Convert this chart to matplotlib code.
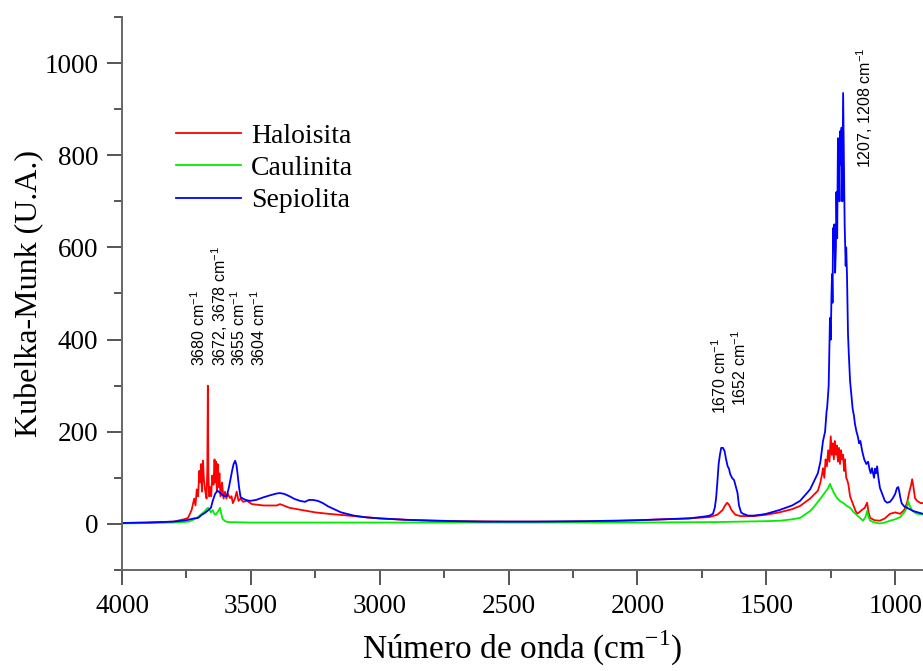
import numpy as np
import matplotlib
matplotlib.use('Agg')
import matplotlib.pyplot as plt
from matplotlib.ticker import MultipleLocator

plt.rcParams['font.family'] = 'Liberation Serif'
plt.rcParams['mathtext.fontset'] = 'custom'
plt.rcParams['mathtext.rm'] = 'Liberation Serif'
plt.rcParams['mathtext.sf'] = 'Liberation Sans'

# Haloisita (wavenumber cm-1, Kubelka-Munk)
halo_wn = [4000, 3900, 3800, 3760, 3744, 3730, 3720, 3715, 3710, 3705, 3700, 3697, 3693, 3690, 3686,
           3682, 3678, 3672, 3669, 3667, 3665, 3662, 3658, 3654, 3650, 3645, 3641, 3638, 3635, 3632,
           3629, 3626, 3622, 3618, 3612, 3606, 3600, 3595, 3589, 3581, 3575, 3570, 3562, 3555, 3548,
           3540, 3530, 3515, 3496, 3450, 3400, 3387, 3350, 3300, 3250, 3200, 3100, 3000, 2900, 2700,
           2500, 2300, 2100, 2000, 1900, 1800, 1720, 1690, 1670, 1660, 1652, 1645, 1635, 1620, 1600,
           1550, 1500, 1450, 1400, 1369, 1330, 1300, 1290, 1283, 1280, 1275, 1270, 1265, 1260, 1255,
           1250, 1246, 1242, 1238, 1234, 1230, 1226, 1222, 1218, 1214, 1210, 1206, 1202, 1198, 1195,
           1190, 1186, 1182, 1175, 1165, 1155, 1148, 1140, 1130, 1118, 1109, 1103, 1097, 1080, 1059,
           1040, 1020, 1000, 981, 965, 954, 945, 938, 934, 929, 923, 915, 900, 880]
halo_km = [2, 3, 5, 10, 13, 30, 55, 40, 75, 60, 115, 90, 130, 70, 137,
           95, 75, 55, 120, 300, 110, 60, 80, 60, 105, 85, 140, 90, 135, 70,
           130, 80, 110, 60, 90, 55, 70, 55, 65, 56, 60, 45, 55, 70, 50,
           55, 48, 50, 43, 40, 40, 43, 35, 30, 25, 22, 17, 12, 9, 6,
           5, 5, 6, 8, 10, 12, 15, 20, 30, 40, 46, 42, 30, 20, 17,
           17, 20, 25, 32, 39, 55, 72, 90, 110, 121, 100, 140, 125, 160, 135,
           190, 150, 175, 140, 180, 150, 170, 135, 165, 130, 160, 140, 150, 115, 140,
           100, 95, 87, 60, 45, 30, 22, 25, 30, 35, 46, 25, 13, 8, 7,
           12, 22, 25, 22, 30, 46, 70, 85, 97, 80, 56, 50, 45, 46]

# Caulinita
caul_wn = [4000, 3900, 3800, 3740, 3720, 3705, 3695, 3686, 3678, 3672, 3666, 3660, 3655, 3648, 3642,
           3636, 3630, 3624, 3620, 3616, 3610, 3600, 3589, 3500, 3000, 2500, 2000, 1700, 1500, 1447,
           1400, 1369, 1330, 1318, 1290, 1270, 1260, 1253, 1248, 1240, 1232, 1225, 1215, 1200, 1190,
           1175, 1160, 1140, 1125, 1115, 1109, 1103, 1097, 1080, 1059, 1040, 1020, 1000, 980, 965,
           954, 950, 944, 935, 925, 915, 880]
caul_km = [1, 2, 3, 5, 10, 15, 20, 24, 28, 32, 35, 30, 25, 30, 22,
           20, 25, 30, 35, 25, 11, 6, 4, 3, 3, 3, 3, 4, 6, 7,
           10, 13, 28, 35, 55, 70, 78, 87, 80, 70, 62, 56, 50, 45, 40,
           35, 25, 15, 7, 15, 28, 15, 7, 3, 1, 3, 7, 10, 15, 25,
           35, 50, 40, 30, 25, 22, 20]

# Sepiolita
sepi_wn = [4000, 3900, 3800, 3750, 3720, 3705, 3690, 3678, 3665, 3655, 3648, 3639, 3630, 3620, 3610,
           3600, 3593, 3585, 3578, 3573, 3567, 3561, 3556, 3552, 3546, 3540, 3534, 3520, 3503, 3480,
           3450, 3420, 3400, 3387, 3370, 3350, 3330, 3309, 3290, 3275, 3259, 3240, 3220, 3200, 3181,
           3150, 3100, 3050, 3000, 2900, 2800, 2600, 2400, 2200, 2000, 1900, 1800, 1740, 1720, 1707,
           1700, 1695, 1690, 1685, 1680, 1675, 1668, 1662, 1656, 1650, 1645, 1640, 1633, 1625, 1618,
           1612, 1606, 1598, 1590, 1570, 1550, 1520, 1500, 1450, 1400, 1369, 1330, 1300, 1290, 1280,
           1272, 1266, 1264, 1258, 1253, 1250, 1247, 1245, 1243, 1241, 1238, 1236, 1233, 1230, 1228,
           1225, 1222, 1219, 1216, 1214, 1211, 1208, 1205, 1202, 1199, 1196, 1192, 1190, 1187, 1185,
           1183, 1180, 1175, 1170, 1165, 1160, 1156, 1150, 1145, 1140, 1135, 1128, 1120, 1112, 1105,
           1100, 1095, 1090, 1082, 1078, 1074, 1070, 1065, 1059, 1050, 1040, 1031, 1020, 1010, 1000,
           993, 988, 984, 981, 975, 965, 954, 930, 880]
sepi_km = [2, 3, 5, 8, 12, 13, 20, 24, 30, 35, 50, 65, 72, 68, 62,
           60, 61, 80, 100, 115, 130, 137, 128, 110, 80, 58, 56, 52, 50, 52,
           58, 63, 66, 67, 65, 60, 54, 50, 48, 52, 52, 50, 45, 38, 33,
           25, 18, 14, 12, 9, 7, 5, 5, 6, 8, 10, 12, 16, 18, 22,
           35, 55, 90, 130, 150, 165, 165, 158, 140, 125, 120, 108, 100, 95, 80,
           68, 40, 25, 22, 18, 18, 20, 22, 30, 40, 50, 75, 110, 135, 180,
           200, 245, 252, 300, 447, 400, 500, 542, 480, 642, 600, 650, 545, 600, 720,
           620, 837, 800, 700, 852, 780, 860, 700, 935, 800, 650, 560, 600, 542, 480,
           412, 370, 310, 280, 250, 235, 217, 200, 190, 175, 180, 158, 140, 130, 135,
           120, 110, 121, 100, 120, 110, 125, 100, 78, 65, 50, 46, 48, 55, 65,
           78, 80, 70, 60, 45, 38, 35, 28, 20]

# peak labels: (text, x, y)
peak_labels = [
    (r'3680 cm$^{\mathsf{-1}}$', 3701, 343),
    (r'3672, 3678 cm$^{\mathsf{-1}}$', 3620, 343),
    (r'3655 cm$^{\mathsf{-1}}$', 3546, 343),
    (r'3604 cm$^{\mathsf{-1}}$', 3468, 343),
    (r'1670 cm$^{\mathsf{-1}}$', 1680, 239),
    (r'1652 cm$^{\mathsf{-1}}$', 1602, 256),
    (r'1207, 1208 cm$^{\mathsf{-1}}$', 1117, 772),
]

fig = plt.figure(figsize=(9.23, 6.71), dpi=100)
ax = fig.add_axes([0.1322, 0.1505, 0.8678, 0.8242])

ax.plot(halo_wn, halo_km, color='#ff0000', lw=1.3, label='Haloisita')
ax.plot(caul_wn, caul_km, color='#00ee00', lw=1.3, label='Caulinita')
ax.plot(sepi_wn, sepi_km, color='#0000ff', lw=1.3, label='Sepiolita')

for txt, x, y in peak_labels:
    ax.text(x, y, txt, rotation=90, ha='center', va='bottom',
            fontsize=11.5, family='Liberation Sans')

ax.set_xlim(4000, 892)
ax.set_ylim(-100, 1100)
ax.xaxis.set_major_locator(MultipleLocator(500))
ax.xaxis.set_minor_locator(MultipleLocator(250))
ax.yaxis.set_major_locator(MultipleLocator(200))
ax.yaxis.set_minor_locator(MultipleLocator(100))

for s in ['top', 'right']:
    ax.spines[s].set_visible(False)
for s in ['left', 'bottom']:
    ax.spines[s].set_color('#666666')
    ax.spines[s].set_linewidth(1.4)

ax.tick_params(which='major', direction='out', length=11, width=1.4, color='#555555',
               labelsize=19.5, pad=6)
ax.tick_params(which='minor', direction='out', length=6, width=1.4, color='#555555')

ax.set_xlabel(r'Número de onda (cm$^{-1}$)', fontsize=24, labelpad=7)
ax.set_ylabel('Kubelka-Munk (U.A.)', fontsize=23, labelpad=0)

ax.legend(loc='upper left', bbox_to_anchor=(0.1907, 0.8166), bbox_transform=fig.transFigure,
          frameon=False, fontsize=20, handlelength=2.35, handletextpad=0.35, labelspacing=0.25,
          borderpad=0, borderaxespad=0)

fig.savefig('out.png', dpi=100)
